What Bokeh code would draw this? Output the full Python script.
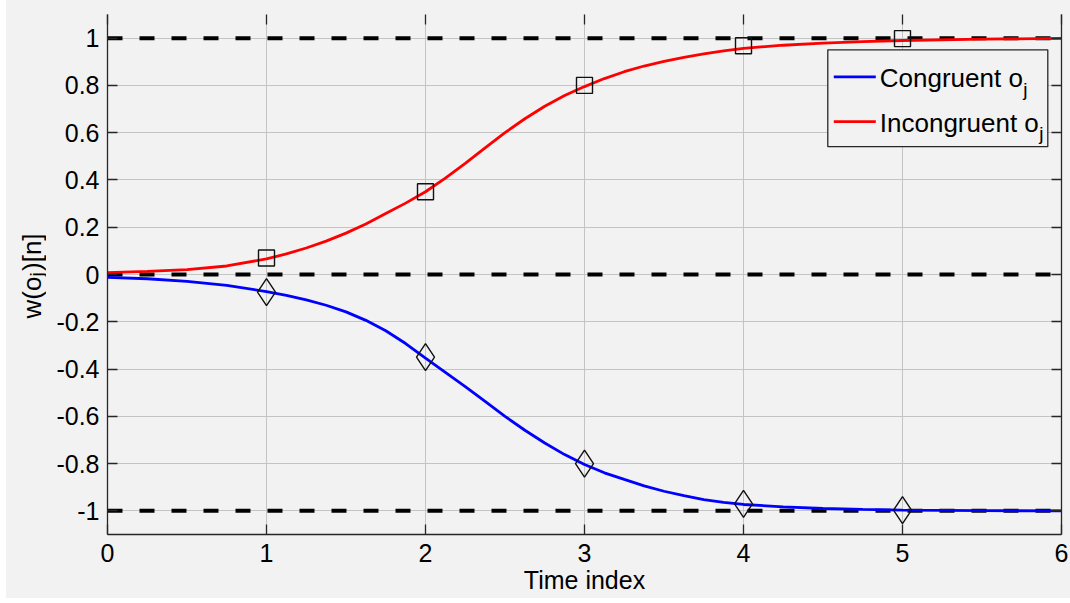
import math
from bokeh.plotting import figure
from bokeh.models import Range1d, LinearAxis, FixedTicker, BoxAnnotation, Label, Spacer
from bokeh.layouts import row
from bokeh.embed import file_html
from bokeh.resources import INLINE

# ---------------- data ----------------
t_curve = [0, 0.25, 0.5, 0.75, 1, 1.125, 1.25, 1.375, 1.5, 1.625, 1.75, 1.875,
           2, 2.125, 2.25, 2.375, 2.5, 2.625, 2.75, 2.875, 3, 3.125, 3.25,
           3.375, 3.5, 3.625, 3.75, 3.875, 4, 4.25, 4.5, 4.75, 5, 5.5, 6]
incong_curve = [0.008, 0.013, 0.021, 0.036, 0.066, 0.087, 0.112, 0.141, 0.175,
                0.214, 0.258, 0.302, 0.350, 0.408, 0.470, 0.536, 0.600, 0.659,
                0.712, 0.757, 0.795, 0.829, 0.858, 0.882, 0.902, 0.919, 0.933,
                0.946, 0.957, 0.970, 0.979, 0.985, 0.990, 0.996, 0.999]
cong_curve = [-0.012, -0.018, -0.029, -0.046, -0.072, -0.088, -0.107, -0.130,
              -0.158, -0.194, -0.238, -0.292, -0.354, -0.414, -0.474, -0.537,
              -0.600, -0.659, -0.713, -0.762, -0.804, -0.839, -0.867, -0.894,
              -0.917, -0.936, -0.952, -0.964, -0.973, -0.983, -0.990, -0.994,
              -0.997, -0.999, -1.0]
t_marks = [1, 2, 3, 4, 5]
incong_marks = [0.07, 0.35, 0.80, 0.968, 0.998]
cong_marks = [-0.075, -0.35, -0.80, -0.97, -0.997]
ref_levels = [-1, 0, 1]
x_ticks = [0, 1, 2, 3, 4, 5, 6]
x_tick_labels = ["0", "1", "2", "3", "4", "5", "6"]
y_ticks = [-1, -0.8, -0.6, -0.4, -0.2, 0, 0.2, 0.4, 0.6, 0.8, 1]
y_tick_labels = ["-1", "-0.8", "-0.6", "-0.4", "-0.2", "0", "0.2", "0.4", "0.6", "0.8", "1"]
x_label = "Time index"
y_label_parts = ["w(o", "j", ")[n]"]
legend_names = ["Congruent o", "Incongruent o"]
legend_sub = "j"

BG = "#f2f2f2"
AX = "#262626"
GRID = "#c4c4c4"
FONT = "Liberation Sans"
LBL_W = 40          # width of the strip that holds the y label
TOP, BOTTOM = 14, 64

y_range = Range1d(-1.1, 1.1)

p = figure(width=1064 - LBL_W, height=598,
           x_range=Range1d(0.0, 6.0), y_range=y_range,
           output_backend="svg", toolbar_location=None,
           background_fill_color=BG, border_fill_color=BG,
           min_border_left=101 - LBL_W, min_border_right=9,
           min_border_top=TOP, min_border_bottom=BOTTOM)
p.outline_line_color = None

def style_axis(ax, ticks, labels, show_labels=True, show_line=True):
    ax.ticker = FixedTicker(ticks=ticks)
    ax.minor_tick_line_color = None
    ax.major_tick_in = 10
    ax.major_tick_out = 0
    ax.major_tick_line_color = AX
    ax.major_tick_line_width = 1.3
    ax.axis_line_color = AX if show_line else None
    ax.axis_line_width = 1.3
    ax.major_label_text_font = FONT
    ax.major_label_text_color = "#000000"
    ax.major_label_text_font_size = "25px"
    if show_labels:
        ax.major_label_overrides = {t: l for t, l in zip(ticks, labels)}
    else:
        ax.major_label_overrides = {t: "" for t in ticks}
        ax.major_label_standoff = 0

style_axis(p.xaxis[0], x_ticks, x_tick_labels)
p.xaxis[0].major_label_standoff = 9
p.xaxis[0].axis_label = x_label
p.xaxis[0].axis_label_text_font = FONT
p.xaxis[0].axis_label_text_font_size = "25px"
p.xaxis[0].axis_label_text_font_style = "normal"
p.xaxis[0].axis_label_text_color = "#000000"
p.xaxis[0].axis_label_standoff = 1

style_axis(p.yaxis[0], y_ticks, y_tick_labels)
p.yaxis[0].major_label_standoff = 8

right_ax = LinearAxis()
style_axis(right_ax, y_ticks, y_tick_labels, show_labels=False)
p.add_layout(right_ax, "right")

top_ax = LinearAxis()
style_axis(top_ax, x_ticks, x_tick_labels, show_labels=False, show_line=False)
p.add_layout(top_ax, "above")

p.xgrid.ticker = FixedTicker(ticks=x_ticks)
p.ygrid.ticker = FixedTicker(ticks=y_ticks)
for g in (p.xgrid, p.ygrid):
    g.grid_line_color = GRID
    g.grid_line_width = 1

# reference dashed lines
for lv in ref_levels:
    p.line([x_ticks[0], x_ticks[-1]], [lv, lv], line_color="black",
           line_width=4, line_dash="15 17")

# curves
p.line(t_curve, cong_curve, line_color="#0000ff", line_width=2.8)
p.line(t_curve, incong_curve, line_color="#ff0000", line_width=2.8)

# markers
p.scatter(t_marks, incong_marks, marker="square", size=16, fill_color=None,
          line_color="#111111", line_width=1.4)
p.scatter(t_marks, cong_marks, marker="diamond", size=27, fill_color=None,
          line_color="#111111", line_width=1.4)

# ---------------- legend (manual, to allow subscripts) ----------------
def px_x(px):
    return (px - 106.7) / 159.0

def px_y(py):
    return (273.0 - py) / 236.7

box = BoxAnnotation(left=px_x(827), right=px_x(1047), top=px_y(48), bottom=px_y(145),
                    fill_color=BG, fill_alpha=1.0, line_color=AX, line_width=1.3,
                    line_alpha=1.0, level="annotation")
p.add_layout(box)

for color, yl in (("#0000ff", 75), ("#ff0000", 120)):
    r = p.line([px_x(833), px_x(875)], [px_y(yl), px_y(yl)], line_color=color, line_width=2.8)
    r.level = "overlay"

legend_rows = [(legend_names[0], 76.7, 1022.5), (legend_names[1], 121.0, 1038.5)]
for name, base, jx in legend_rows:
    p.add_layout(Label(x=px_x(879), y=px_y(base), text=name, text_font=FONT,
                       text_font_size="26px", text_color="#000000",
                       text_align="left", text_baseline="alphabetic", level="overlay"))
    p.add_layout(Label(x=px_x(jx), y=px_y(base + 11), text=legend_sub, text_font=FONT,
                       text_font_size="19px", text_color="#000000",
                       text_align="left", text_baseline="alphabetic", level="overlay"))

# ---------------- y-axis label strip (rotated, with subscript) ----------------
lf = figure(width=LBL_W, height=598, x_range=Range1d(0, LBL_W), y_range=y_range,
            x_axis_type=None, y_axis_type=None,
            output_backend="svg", toolbar_location=None,
            background_fill_color=BG, border_fill_color=BG,
            min_border_left=0, min_border_right=0,
            min_border_top=TOP, min_border_bottom=BOTTOM)
lf.outline_line_color = None
lf.xgrid.visible = False
lf.ygrid.visible = False

ang = math.pi / 2
def lx(page_x):          # page pixel -> strip x (strip starts after the 6px margin)
    return page_x - 6

lf.add_layout(Label(x=lx(31), y=px_y(317), text=y_label_parts[0], angle=ang, text_font=FONT,
                    text_font_size="26px", text_color="#000000",
                    text_align="left", text_baseline="alphabetic"))
lf.add_layout(Label(x=lx(36), y=px_y(275), text=y_label_parts[1], angle=ang, text_font=FONT,
                    text_font_size="19px", text_color="#000000",
                    text_align="left", text_baseline="alphabetic"))
lf.add_layout(Label(x=lx(31), y=px_y(269.5), text=y_label_parts[2], angle=ang, text_font=FONT,
                    text_font_size="26px", text_color="#000000",
                    text_align="left", text_baseline="alphabetic"))

spacer = Spacer(width=6, height=598, styles={"background-color": "#ffffff"})
layout = row(spacer, lf, p, spacing=0, styles={"background-color": BG})
open("out.html", "w").write(file_html(layout, INLINE))
